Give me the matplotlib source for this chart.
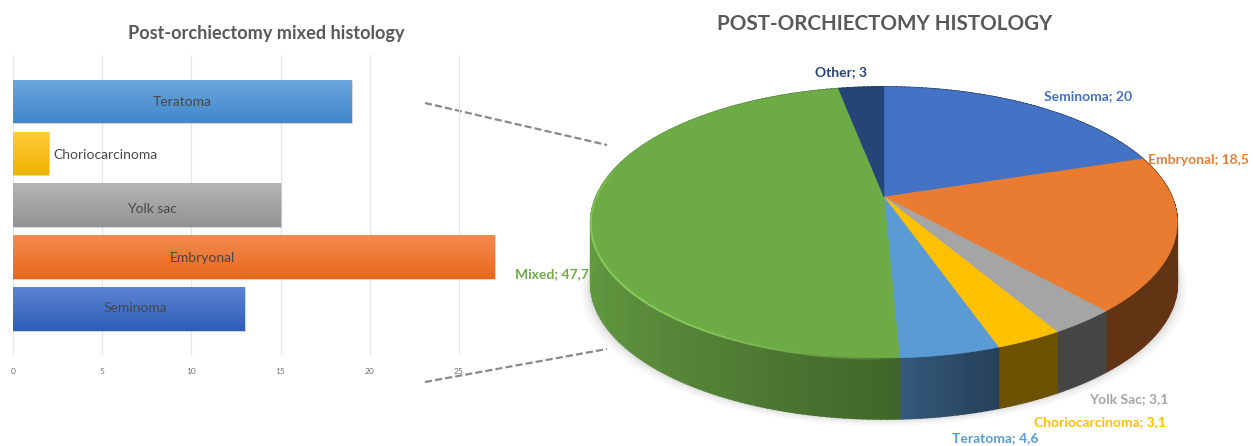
import numpy as np
import matplotlib
matplotlib.use("Agg")
import matplotlib.pyplot as plt
from matplotlib.colors import to_rgb, LinearSegmentedColormap

plt.rcParams['font.family'] = ['Lato', 'DejaVu Sans']

# ---- data ----
bar_categories = ['Seminoma', 'Embryonal', 'Yolk sac', 'Choriocarcinoma', 'Teratoma']
bar_values = [13, 27, 15, 2, 19]
bar_top_colors = ['#5C84D2', '#F38A50', '#B5B5B5', '#FFCB3C', '#6CA6DC']
bar_bottom_colors = ['#2F5DB8', '#E8681A', '#939393', '#EEB200', '#4287CC']
bar_ticks = [0, 5, 10, 15, 20, 25]

pie_categories = ['Seminoma', 'Embryonal', 'Yolk Sac', 'Choriocarcinoma', 'Teratoma', 'Mixed', 'Other']
pie_values = [20, 18.5, 3.1, 3.1, 4.6, 47.7, 3]
pie_colors = ['#4472C4', '#E97C30', '#A5A5A5', '#FFC000', '#5B9BD5', '#6DAB47', '#264478']
pie_value_labels = ['20', '18,5', '3,1', '3,1', '4,6', '47,7', '3']

W, H = 1253, 446
fig = plt.figure(figsize=(W / 100, H / 100), dpi=100, facecolor='white')

# pixel-space overlay holds the pie and free annotations
ov = fig.add_axes([0, 0, 1, 1])
ov.set_xlim(0, W)
ov.set_ylim(H, 0)
ov.axis('off')

# ---- left: bar chart ----
L, R, T, B = 13, 503.6, 55, 355
ax = fig.add_axes([L / W, 1 - B / H, (R - L) / W, (B - T) / H])
ax.set_xlim(0, 27.5)
ax.set_ylim(-0.887, 4.896)
ax.patch.set_alpha(0)
for s in ax.spines.values():
    s.set_visible(False)
y = np.arange(len(bar_values))
ax.set_yticks([])
ax.set_xticks(bar_ticks)
ax.tick_params(axis='x', length=0, labelsize=6, labelcolor='#707070', pad=9)
ax.xaxis.grid(True, color='#E6E6E6', lw=0.9)
ax.set_axisbelow(True)
ax.barh(y - 0.02, bar_values, 0.84, left=0.06, color='#808080', alpha=0.3, zorder=1.5)
bars = ax.barh(y, bar_values, 0.84, color=bar_top_colors, zorder=2)
for b, c0, c1 in zip(bars, bar_top_colors, bar_bottom_colors):
    cm = LinearSegmentedColormap.from_list('g', [c0, c1])
    bb = b.get_bbox()
    im = ax.imshow(np.linspace(0, 1, 64)[:, None], cmap=cm, aspect='auto', zorder=2.1,
                   extent=[bb.x0, bb.x1, bb.y0, bb.y1], origin='upper', interpolation='bilinear')
    im.set_clip_path(b)
ax.set_xlim(0, 27.5)
ax.set_ylim(-0.887, 4.896)

bar_label_px = {'Teratoma': (182, 102, 'center'), 'Choriocarcinoma': (53, 155, 'left'),
                'Yolk sac': (152, 209, 'center'), 'Embryonal': (202, 258, 'center'),
                'Seminoma': (135, 308, 'center')}
for name in bar_categories:
    px, py, ha = bar_label_px[name]
    fig.text(px / W, 1 - py / H, name, fontsize=10, color='#484848', ha=ha, va='center', zorder=5)

fig.text(266 / W, 1 - 33 / H, 'Post-orchiectomy mixed histology', fontsize=13.05, fontweight='bold',
         color='#595959', ha='center', va='center')
fig.text(884.5 / W, 1 - 24 / H, 'POST-ORCHIECTOMY HISTOLOGY', fontsize=14.85, fontweight='bold',
         color='#595959', ha='center', va='center')

# connecting dashes
for (x0, y0, x1, y1) in [(425, 103, 607, 145), (425, 382, 607, 349)]:
    ov.plot([x0, x1], [y0, y1], color='#8A8A8A', lw=1.6, ls=(0, (3.2, 1.4)))

# ---- right: perspective 3D pie ----
CX, CY, A, BB, K, DEPTH = 884, 197, 288, 130.7, 0.188, 61


def proj(theta_deg):
    t = np.radians(theta_deg)
    u, v = np.sin(t), np.cos(t)
    w = 1 + K * v
    return CX + A * u / w, CY - BB * v / w


vals = np.array(pie_values, float)
edges = np.concatenate([[0], np.cumsum(vals)]) / vals.sum() * 360

# soft shadow
full = np.linspace(0, 360, 361)
sx, sy = proj(full)
for g, a in zip([10, 7, 4, 2], [0.025, 0.03, 0.04, 0.05]):
    ov.fill(CX + (sx - CX) * (1 + g / 293), sy + DEPTH + g * 0.7, color='#000000', alpha=a, lw=0, zorder=1)


def side_factor(theta):
    u = np.sin(np.radians(theta))
    return 0.60 + (-u) * 0.30 if u < 0 else 0.60 - 0.36 * min(u * 1.6, 0.5)


# side wall
for i, c in enumerate(pie_colors):
    base = np.array(to_rgb(c))
    th = np.arange(edges[i], edges[i + 1] + 1e-6, 1.0)
    th = np.append(th, edges[i + 1])
    for t0, t1 in zip(th[:-1], th[1:]):
        if t1 <= t0:
            continue
        x0, y0 = proj(t0)
        x1, y1 = proj(t1)
        col = np.clip(base * side_factor((t0 + t1) / 2), 0, 1)
        ov.fill([x0, x1, x1, x0], [y0, y1, y1 + DEPTH, y0 + DEPTH], color=col, lw=1.2, zorder=2)

# top face
for i, c in enumerate(pie_colors):
    th = np.linspace(edges[i], edges[i + 1], max(int(edges[i + 1] - edges[i]) * 2, 8))
    x, y_ = proj(th)
    ov.fill(np.r_[CX, x], np.r_[CY, y_], color=c, lw=0.4, zorder=3)

# light rim on the large slice, fading at both ends
mix = pie_categories.index('Mixed')
th = np.linspace(edges[mix] + 2, 285, 100)
x, y_ = proj(th)
ramp = np.sin(np.linspace(0, np.pi, len(th) - 1)) ** 0.6
for j, a in enumerate(ramp):
    ov.plot(x[j:j + 2], y_[j:j + 2] + 1, color='#8CCB5E', lw=1.5, alpha=float(a), zorder=4,
            solid_capstyle='butt')

# slice labels
pie_label_px = {'Seminoma': (1088, 96, 'center'), 'Embryonal': (1148, 160, 'left'),
                'Yolk Sac': (1129, 399, 'center'), 'Choriocarcinoma': (1034, 422, 'left'),
                'Teratoma': (952, 438, 'left'), 'Mixed': (515, 274, 'left'), 'Other': (841, 72, 'center')}
for name, c, v in zip(pie_categories, pie_colors, pie_value_labels):
    px, py, ha = pie_label_px[name]
    ov.text(px, py, f'{name}; {v}', color=c, fontsize=10, fontweight='bold', ha=ha, va='center', zorder=6)

fig.savefig('out.png', dpi=100, facecolor='white')
